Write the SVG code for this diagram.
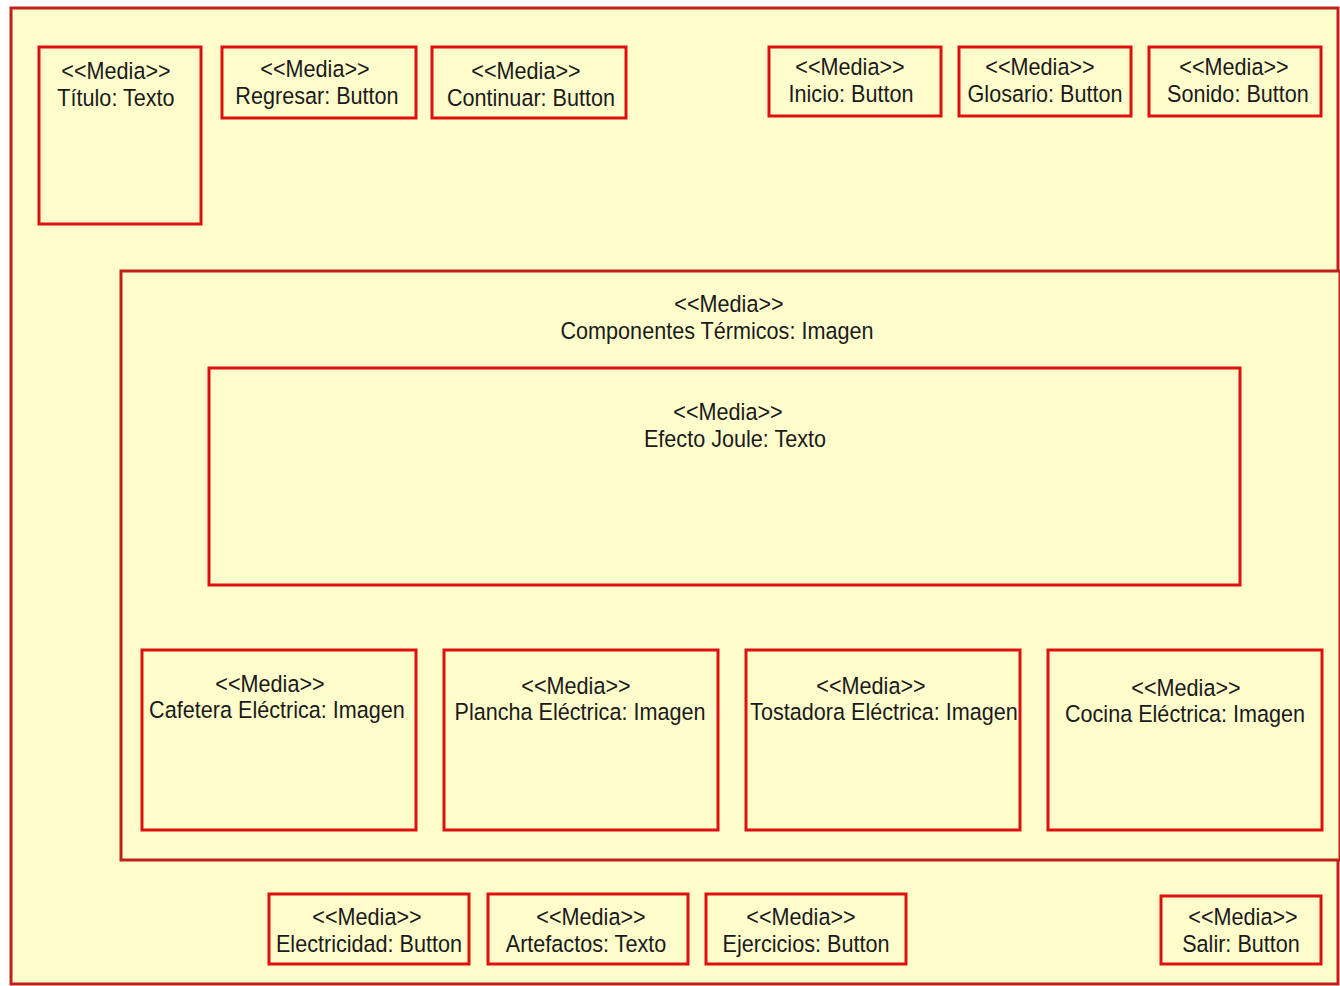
<svg xmlns="http://www.w3.org/2000/svg" width="1340" height="986" viewBox="0 0 1340 986">
  <style>
    .frame { fill: #fffdcc; stroke: #c0201a; stroke-width: 3; }
    .box { fill: #fffdcc; stroke: #e01010; stroke-width: 3; }
    text { font-family: "Liberation Sans", Arial, sans-serif; font-size: 23.5px; fill: #1a1a1a; text-anchor: middle;
           transform-box: fill-box; transform-origin: center; transform: scaleX(0.92); }
  </style>
  <rect x="0" y="0" width="1340" height="986" fill="#ffffff"/>

  <!-- outer screen frame -->
  <g id="screen">
    <rect class="frame" x="11" y="8" width="1327" height="976"/>
  </g>

  <!-- top toolbar -->
  <g id="titulo">
    <rect class="box" x="39" y="47" width="162" height="177"/>
    <text x="116" y="79">&lt;&lt;Media&gt;&gt;</text>
    <text x="116" y="106">Título: Texto</text>
  </g>
  <g id="regresar">
    <rect class="box" x="222" y="47" width="194" height="71"/>
    <text x="315" y="77">&lt;&lt;Media&gt;&gt;</text>
    <text x="317" y="104">Regresar: Button</text>
  </g>
  <g id="continuar">
    <rect class="box" x="432" y="47" width="194" height="71"/>
    <text x="526" y="79">&lt;&lt;Media&gt;&gt;</text>
    <text x="531" y="106">Continuar: Button</text>
  </g>
  <g id="inicio">
    <rect class="box" x="769" y="47" width="172" height="69"/>
    <text x="850" y="75">&lt;&lt;Media&gt;&gt;</text>
    <text x="851" y="102">Inicio: Button</text>
  </g>
  <g id="glosario">
    <rect class="box" x="959" y="47" width="172" height="69"/>
    <text x="1040" y="75">&lt;&lt;Media&gt;&gt;</text>
    <text x="1045" y="102">Glosario: Button</text>
  </g>
  <g id="sonido">
    <rect class="box" x="1149" y="47" width="172" height="69"/>
    <text x="1234" y="75">&lt;&lt;Media&gt;&gt;</text>
    <text x="1238" y="102">Sonido: Button</text>
  </g>

  <!-- central content image -->
  <g id="componentes">
    <rect class="frame" x="121" y="271" width="1219" height="589"/>
    <text x="729" y="312">&lt;&lt;Media&gt;&gt;</text>
    <text x="717" y="339">Componentes Térmicos: Imagen</text>
  </g>
  <g id="efecto-joule">
    <rect class="box" x="209" y="368" width="1031" height="217"/>
    <text x="728" y="420">&lt;&lt;Media&gt;&gt;</text>
    <text x="735" y="447">Efecto Joule: Texto</text>
  </g>
  <g id="cafetera">
    <rect class="box" x="142" y="650" width="274" height="180"/>
    <text x="270" y="692">&lt;&lt;Media&gt;&gt;</text>
    <text x="277" y="718">Cafetera Eléctrica: Imagen</text>
  </g>
  <g id="plancha">
    <rect class="box" x="444" y="650" width="274" height="180"/>
    <text x="576" y="694">&lt;&lt;Media&gt;&gt;</text>
    <text x="580" y="720">Plancha Eléctrica: Imagen</text>
  </g>
  <g id="tostadora">
    <rect class="box" x="746" y="650" width="274" height="180"/>
    <text x="871" y="694">&lt;&lt;Media&gt;&gt;</text>
    <text x="884" y="720">Tostadora Eléctrica: Imagen</text>
  </g>
  <g id="cocina">
    <rect class="box" x="1048" y="650" width="274" height="180"/>
    <text x="1186" y="696">&lt;&lt;Media&gt;&gt;</text>
    <text x="1185" y="722">Cocina Eléctrica: Imagen</text>
  </g>

  <!-- bottom navigation -->
  <g id="electricidad">
    <rect class="box" x="269" y="894" width="200" height="70"/>
    <text x="367" y="925">&lt;&lt;Media&gt;&gt;</text>
    <text x="369" y="952">Electricidad: Button</text>
  </g>
  <g id="artefactos">
    <rect class="box" x="488" y="894" width="200" height="70"/>
    <text x="591" y="925">&lt;&lt;Media&gt;&gt;</text>
    <text x="586" y="952">Artefactos: Texto</text>
  </g>
  <g id="ejercicios">
    <rect class="box" x="706" y="894" width="200" height="70"/>
    <text x="801" y="925">&lt;&lt;Media&gt;&gt;</text>
    <text x="806" y="952">Ejercicios: Button</text>
  </g>
  <g id="salir">
    <rect class="box" x="1161" y="896" width="160" height="68"/>
    <text x="1243" y="925">&lt;&lt;Media&gt;&gt;</text>
    <text x="1241" y="952">Salir: Button</text>
  </g>

  <g id="connectors"/>
</svg>
